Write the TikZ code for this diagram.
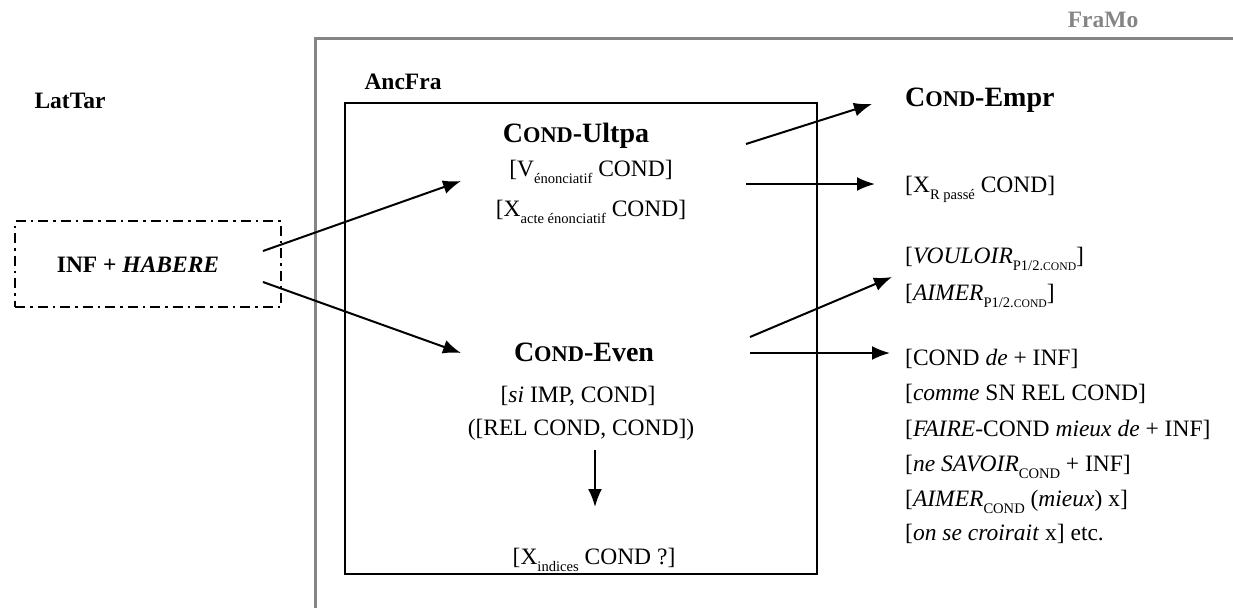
\documentclass[tikz,border=0pt]{standalone}
\usepackage{fontspec}
\setmainfont{Liberation Serif}
\usetikzlibrary{arrows.meta}
\definecolor{framegray}{HTML}{858585}
\newcommand\smc[1]{{\fontsize{0.8\dimexpr\fontdimen6\font\relax}{0pt}\selectfont #1}}
\newcommand\sbx[1]{\raisebox{-0.3em}{\fontsize{0.62\dimexpr\fontdimen6\font\relax}{0pt}\selectfont #1}}
\begin{document}
\begin{tikzpicture}[x=1pt,y=-1pt,
  body/.style={font=\fontsize{23.5}{28}\selectfont, inner sep=0pt, anchor=base},
  bodyl/.style={body, anchor=base west},
  lab/.style={font=\fontsize{23.5}{28}\selectfont\bfseries, inner sep=0pt, anchor=base},
  head/.style={font=\fontsize{28}{32}\selectfont\bfseries, inner sep=0pt, anchor=base},
  arr/.style={line width=2pt, -{Latex[length=18pt,width=14pt]}},
  graybar/.style={line width=3pt, draw=framegray},
  dashbox/.style={draw, line width=2.5pt, dash pattern=on 10pt off 5pt on 2.5pt off 5pt, minimum width=266pt, minimum height=86pt, inner sep=0pt},
  ancbox/.style={draw, line width=2pt, minimum width=472pt, minimum height=471pt, inner sep=0pt}
]
\useasboundingbox (0,0) rectangle (1233,608);
% outer grey frame (FraMo)
\coordinate (gf1) at (315,608);
\coordinate (gf2) at (315,38);
\coordinate (gf3) at (1233,38);
\draw[graybar] (gf1) -- (gf2) -- (gf3);
\node[lab, text=framegray] (framo) at (1103,27) {FraMo};
\node[lab] (lattar) at (70,108) {LatTar};
\node[lab] (ancfra) at (403,89) {AncFra};
% boxes
\node[dashbox] (infbox) at (148,264) {};
\node[lab] (inf) at (138,272) {INF + \textit{HABERE}};
\node[ancbox] (anc) at (581,338.5) {};
% Ultpa block
\node[head] (ultpa) at (576,142) {C\smc{OND}-Ultpa};
\node[body] (u1) at (591,176) {[V\sbx{énonciatif} COND]};
\node[body] (u2) at (591,216) {[X\sbx{acte énonciatif} COND]};
% Even block
\node[head] (even) at (584,361) {C\smc{OND}-Even};
\node[body] (e1) at (578,402) {[\textit{si} IMP, COND]};
\node[body] (e2) at (581,435) {([REL COND, COND])};
\node[body] (e3) at (594,564) {[X\sbx{indices} COND ?]};
% right column
\node[head, anchor=base west] (empr) at (905,106) {C\smc{OND}-Empr};
\node[bodyl] (xr) at (905,192) {[X\sbx{R passé} COND]};
\node[bodyl] (v1) at (905,263) {[\textit{VOULOIR}\sbx{P1/2.\smc{COND}}]};
\node[bodyl] (v2) at (905,300) {[\textit{AIMER}\sbx{P1/2.\smc{COND}}]};
\node[bodyl] (l1) at (905,365) {[COND \textit{de} + INF]};
\node[bodyl] (l2) at (905,400) {[\textit{comme} SN REL COND]};
\node[bodyl] (l3) at (905,436) {[\textit{FAIRE}-COND \textit{mieux de} + INF]};
\node[bodyl] (l4) at (905,471) {[\textit{ne SAVOIR}\sbx{COND} + INF]};
\node[bodyl] (l5) at (905,506) {[\textit{AIMER}\sbx{COND} (\textit{mieux}) x]};
\node[bodyl] (l6) at (905,540) {[\textit{on se croirait} x] etc.};
% arrow end points
\coordinate (a1s) at (263,251); \coordinate (a1e) at (461,181);
\coordinate (a2s) at (263,282); \coordinate (a2e) at (461,353);
\coordinate (a3s) at (746,144); \coordinate (a3e) at (872,104);
\coordinate (a4s) at (746,184); \coordinate (a4e) at (875,184);
\coordinate (a5s) at (750,337); \coordinate (a5e) at (892,277);
\coordinate (a6s) at (750,353); \coordinate (a6e) at (890,353);
\coordinate (a7s) at (595,450); \coordinate (a7e) at (595,507);
\draw[arr] (a1s) -- (a1e);
\draw[arr] (a2s) -- (a2e);
\draw[arr] (a3s) -- (a3e);
\draw[arr] (a4s) -- (a4e);
\draw[arr] (a5s) -- (a5e);
\draw[arr] (a6s) -- (a6e);
\draw[arr] (a7s) -- (a7e);
\end{tikzpicture}
\end{document}
